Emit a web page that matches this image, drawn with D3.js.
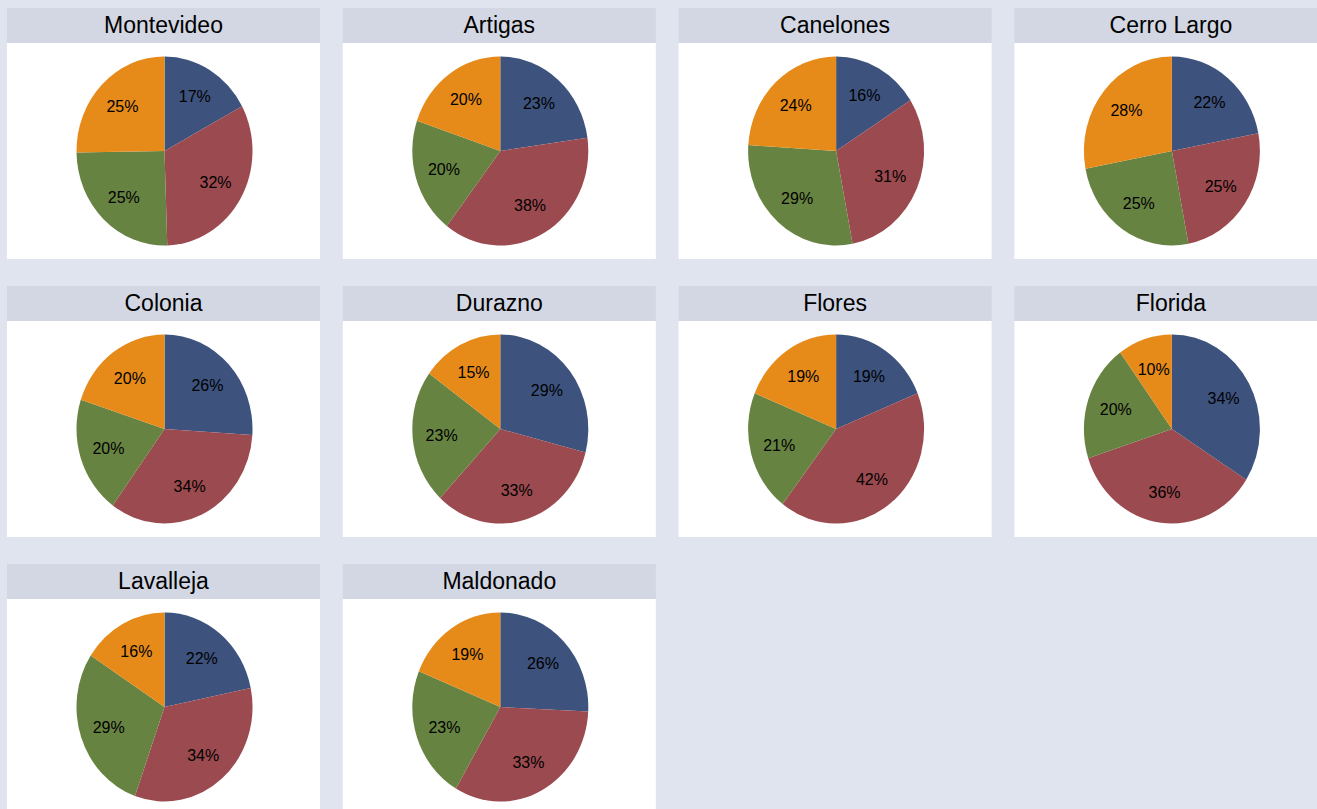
<!DOCTYPE html>
<html>
<head>
<meta charset="utf-8">
<script src="https://cdn.jsdelivr.net/npm/d3@7"></script>
<style>
  html, body { margin: 0; padding: 0; background: #e0e4ef; overflow: hidden; }
  svg { display: block; }
</style>
</head>
<body>
<svg id="chart"></svg>
<script>
// departments (one small panel each)
const departments = ["Montevideo", "Artigas", "Canelones", "Cerro Largo", "Colonia",
  "Durazno", "Flores", "Florida", "Lavalleja", "Maldonado"];
// four shares per department, clockwise from 12 o'clock
const segments = ["s1", "s2", "s3", "s4"];
const shares = [
  [17, 32, 25, 25],
  [23, 38, 20, 20],
  [16, 31, 29, 24],
  [22, 25, 25, 28],
  [26, 34, 20, 20],
  [29, 33, 23, 15],
  [19, 42, 21, 19],
  [34, 36, 20, 10],
  [22, 34, 29, 16],
  [26, 33, 23, 19]
];
const segColors = ["#3d527d", "#9b4a4f", "#678342", "#e68b1a"];

const W = 1317, H = 809;
const cols = 4;
const panelW = 313, headH = 35, bodyH = 216;
const stepX = 335.8, stepY = 278;
const x0 = 7, y0 = 8;
const rx = 88, ry = 94.5;

const svg = d3.select("#chart").attr("width", W).attr("height", H);

const color = d3.scaleOrdinal().domain(segments).range(segColors);
const pie = d3.pie().sort(null).value(d => d.v);
const arc = d3.arc().innerRadius(0).outerRadius(rx);
const labelArc = d3.arc().innerRadius(rx * 0.67).outerRadius(rx * 0.67);
const fmt = d => d + "%";

const panels = svg.selectAll("g.panel")
  .data(departments.map((name, i) => ({ name, i, vals: shares[i].map((v, k) => ({ k: segments[k], v })) })))
  .join("g")
  .attr("class", "panel")
  .attr("transform", d => `translate(${x0 + (d.i % cols) * stepX},${y0 + Math.floor(d.i / cols) * stepY})`);

// header strip
panels.append("rect")
  .attr("width", panelW).attr("height", headH)
  .attr("fill", "#d2d7e3");

panels.append("text")
  .attr("x", panelW / 2).attr("y", headH / 2 + 7.5)
  .attr("text-anchor", "middle")
  .attr("font-family", "Liberation Sans, Arial, sans-serif")
  .attr("font-size", "23px")
  .attr("fill", "#000")
  .text(d => d.name);

// white plot area
panels.append("rect")
  .attr("y", headH).attr("width", panelW).attr("height", bodyH)
  .attr("fill", "#fff");

const pies = panels.append("g")
  .attr("transform", `translate(${panelW / 2 + 1},${headH + bodyH / 2})`);

pies.append("g")
  .attr("transform", `scale(1,${ry / rx})`)
  .selectAll("path")
  .data(d => pie(d.vals))
  .join("path")
  .attr("d", arc)
  .attr("fill", d => color(d.data.k));

pies.selectAll("text")
  .data(d => pie(d.vals))
  .join("text")
  .attr("x", d => labelArc.centroid(d)[0])
  .attr("y", d => labelArc.centroid(d)[1] * ry / rx)
  .attr("dy", "0.36em")
  .attr("text-anchor", "middle")
  .attr("font-family", "Liberation Sans, Arial, sans-serif")
  .attr("font-size", "16px")
  .attr("fill", "#000")
  .text(d => fmt(d.data.v));
</script>
</body>
</html>
